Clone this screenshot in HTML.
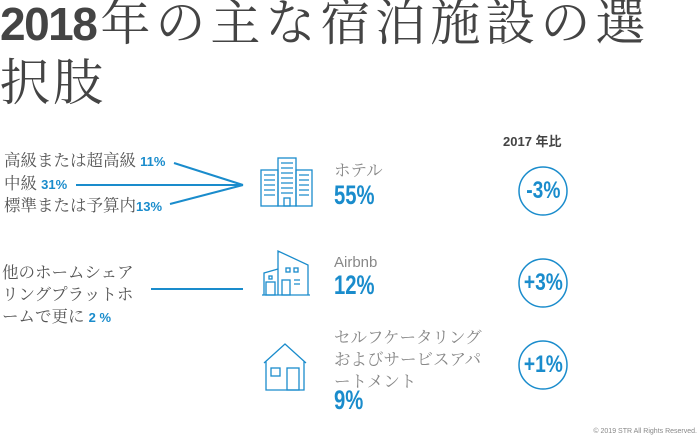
<!DOCTYPE html>
<html><head><meta charset="utf-8"><style>
body{margin:0;width:700px;height:440px;background:#fff;position:relative;overflow:hidden;font-family:"Liberation Serif","Noto Serif CJK SC",serif;color:#555}
.a{position:absolute;white-space:nowrap}
.t{font-size:50px;color:#444;line-height:50px}
.b{color:#1a8ccc;font-family:"Liberation Sans",sans-serif;font-weight:bold}
.l{font-size:16.5px;color:#555;line-height:22px}
.g{font-size:16.5px;color:#888;line-height:22px}
.p{font-size:27px;display:inline-block;transform:scaleX(0.75);transform-origin:left}
.c{font-size:24px;display:inline-block;transform:scaleX(0.8)}
</style></head><body>
<div class="a t" style="left:0;top:-2px;letter-spacing:5px"><span style="font-family:'Liberation Sans',sans-serif;font-weight:bold;font-size:46px;letter-spacing:-1.5px;color:#444;margin-right:4px">2018</span>年の主な宿泊施設の選</div>
<div class="a t" style="left:0;top:58px;letter-spacing:3px">択肢</div>
<div class="a" style="left:503px;top:131px;font-family:'Liberation Sans','Noto Sans CJK JP',sans-serif;font-weight:bold;font-size:13px;color:#444">2017 年比</div>

<div class="a l" style="left:4px;top:150px">高級または超高級 <span class="b" style="font-size:13px">11%</span></div>
<div class="a l" style="left:4px;top:173px">中級 <span class="b" style="font-size:13px">31%</span></div>
<div class="a l" style="left:4px;top:195px">標準または予算内<span class="b" style="font-size:13px">13%</span></div>

<div class="a l" style="left:2px;top:262px">他のホームシェア</div>
<div class="a l" style="left:2px;top:284px">リングプラットホ</div>
<div class="a l" style="left:2px;top:306px">ームで更に <span class="b" style="font-size:13px">2 %</span></div>

<div class="a g" style="left:334px;top:160px">ホテル</div>
<div class="a b p" style="left:334px;top:180px">55%</div>
<div class="a g" style="left:334px;top:252px;font-family:'Liberation Sans',sans-serif;font-size:15px">Airbnb</div>
<div class="a b p" style="left:334px;top:270px">12%</div>
<div class="a g" style="left:334px;top:327px;line-height:22px">セルフケータリング<br>およびサービスアパ<br>ートメント</div>
<div class="a b p" style="left:334px;top:385px">9%</div>

<div class="a" style="right:3px;top:428px;font-family:'Liberation Sans',sans-serif;font-size:7px;color:#888">© 2019 STR All Rights Reserved.</div>

<svg class="a" style="left:0;top:0" width="700" height="440" fill="none" stroke="#1a8ccc" stroke-width="2">
<line x1="174" y1="163" x2="243" y2="185"/>
<line x1="76" y1="185" x2="243" y2="185"/>
<line x1="170" y1="204" x2="243" y2="185"/>
<line x1="151" y1="289" x2="243" y2="289"/>
<g stroke-width="1.5">
<circle cx="543" cy="191" r="24"/><circle cx="543" cy="283" r="24"/><circle cx="543" cy="365" r="24"/>
</g>
<g stroke-width="1.3">
<rect x="261" y="170" width="17" height="36"/><rect x="278" y="158" width="18" height="48"/><rect x="296" y="170" width="16" height="36"/>
<path d="M264 175h11M264 180h11M264 185h11M264 190h11M264 195h11M299 175h10M299 180h10M299 185h10M299 190h10M299 195h10M281 163h12M281 168h12M281 173h12M281 178h12M281 183h12M281 188h12M281 193h12"/>
<rect x="284" y="198" width="6" height="8"/>
<path d="M264 295v-22l14-4v26M278 295v-44l30 14v30zM262 295h48"/>
<rect x="266" y="282" width="9" height="13"/><rect x="282" y="280" width="8" height="15"/>
<rect x="269" y="276" width="3" height="3"/><rect x="286" y="268" width="4" height="4"/><rect x="294" y="268" width="4" height="4"/>
<path d="M294 280h6M294 284h6"/>
<path d="M264 363l21-19 21 19M266 361v29h38v-29"/>
<rect x="271" y="368" width="9" height="8"/><rect x="287" y="368" width="12" height="22"/>
</g>
</svg>
<div class="a b" style="left:519px;top:177px;width:48px;text-align:center"><span class="c">-3%</span></div>
<div class="a b" style="left:519px;top:269px;width:48px;text-align:center"><span class="c">+3%</span></div>
<div class="a b" style="left:519px;top:351px;width:48px;text-align:center"><span class="c">+1%</span></div>
</body></html>
